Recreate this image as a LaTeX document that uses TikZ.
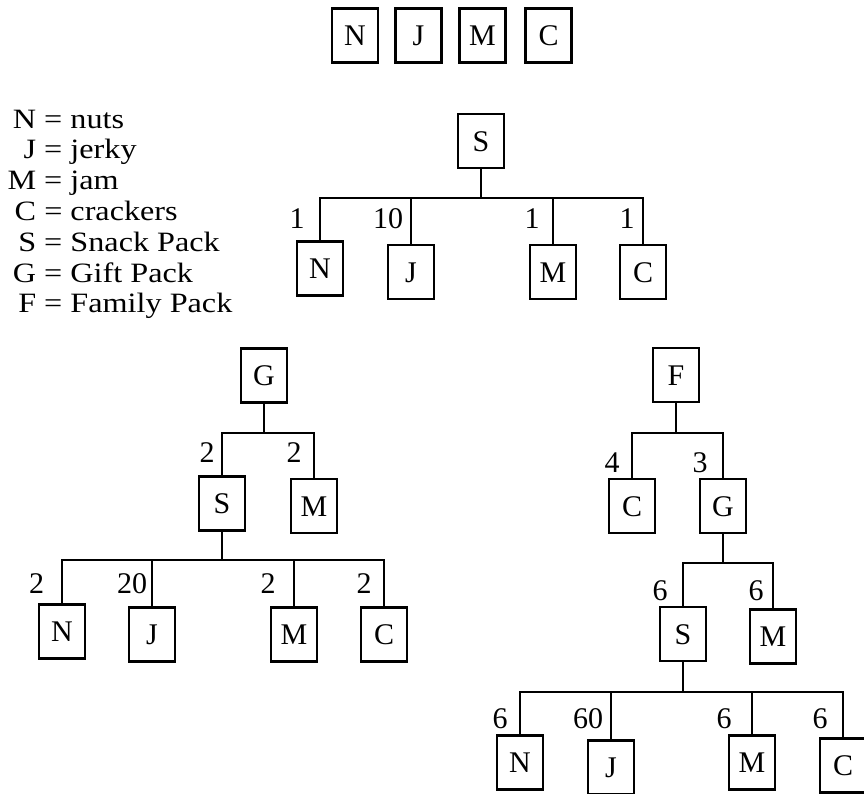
\documentclass[tikz,border=0pt]{standalone}
\usepackage{fontspec}
\setmainfont{Liberation Serif}
\newfontfamily\keyfont[FakeStretch=1.15]{Liberation Serif}
\tikzset{
  item/.style={draw, line width=2.4pt, minimum width=46pt, minimum height=54pt, inner sep=0pt,
    text height=20pt, text depth=0pt, font=\fontsize{30}{36}\selectfont},
  qty/.style={inner sep=0pt, text height=20pt, text depth=0pt, font=\fontsize{30}{36}\selectfont},
  key/.style={anchor=base west, inner sep=0pt, font=\keyfont\fontsize{28}{34}\selectfont},
  link/.style={line width=2.4pt},
}

\begin{document}
\begin{tikzpicture}[x=1pt, y=-1pt]
  \useasboundingbox (0,0) rectangle (864,793);
  % the four items
  \node[item] (topN) at (355,35.5) {N};
  \node[item] (topJ) at (418.5,35.5) {J};
  \node[item] (topM) at (482.5,35.5) {M};
  \node[item] (topC) at (548.5,35.5) {C};
  % key
  \foreach \k/\t [count=\i] in {N/nuts, J/jerky, M/jam, C/crackers, S/Snack Pack, G/Gift Pack, F/Family Pack}
    \node[key] (key\i) at (36,{128+30.8*(\i-1)}) {\makebox[0pt][r]{\k}\ = \t};

  % snack pack
  \node[item] (s1) at (481,141) {S};
  \coordinate (bar1) at (481,198);
  \node[item] (n1) at (320,268.5) {N};
  \node[item] (j1) at (411,272) {J};
  \node[item] (m1) at (553,272) {M};
  \node[item] (c1) at (643,272) {C};
  \draw[link] (s1.south) -- (bar1);
  \draw[link] (n1.north) |- (bar1) -| (c1.north);
  \foreach \c in {j1,m1} \draw[link] (\c.north) -- (\c.north |- bar1);
  \node[qty] (q1n) at (297,218) {1};
  \node[qty] (q1j) at (388,218) {10};
  \node[qty] (q1m) at (532,218) {1};
  \node[qty] (q1c) at (627,218) {1};

  % gift pack
  \node[item] (g2) at (264,375.5) {G};
  \coordinate (bar2) at (264,433);
  \node[item] (s2) at (222,503.5) {S};
  \node[item] (m2) at (314,506) {M};
  \draw[link] (g2.south) -- (bar2);
  \draw[link] (s2.north) |- (bar2) -| (m2.north);
  \node[qty] (q2s) at (207,452) {2};
  \node[qty] (q2m) at (294,452) {2};
  \coordinate (bar3) at (222,560);
  \node[item] (n2) at (62,631.5) {N};
  \node[item] (j2) at (152,634.5) {J};
  \node[item] (m2b) at (294,634.5) {M};
  \node[item] (c2) at (384,634.5) {C};
  \draw[link] (s2.south) -- (bar3);
  \draw[link] (n2.north) |- (bar3) -| (c2.north);
  \foreach \c in {j2,m2b} \draw[link] (\c.north) -- (\c.north |- bar3);
  \node[qty] (q2n) at (36.5,583) {2};
  \node[qty] (q2j) at (132,583) {20};
  \node[qty] (q2mb) at (268,583) {2};
  \node[qty] (q2c) at (364,583) {2};

  % family pack
  \node[item] (f3) at (676,375) {F};
  \coordinate (bar4) at (676,433);
  \node[item] (c3) at (632,506) {C};
  \node[item] (g3) at (723,506) {G};
  \draw[link] (f3.south) -- (bar4);
  \draw[link] (c3.north) |- (bar4) -| (g3.north);
  \node[qty] (q3c) at (612,462) {4};
  \node[qty] (q3g) at (700,462) {3};
  \coordinate (bar5) at (723,563);
  \node[item] (s3) at (683,634) {S};
  \node[item] (m3) at (773,636.5) {M};
  \draw[link] (g3.south) -- (bar5);
  \draw[link] (s3.north) |- (bar5) -| (m3.north);
  \node[qty] (q3s) at (660,590) {6};
  \node[qty] (q3m) at (756,590) {6};
  \coordinate (bar6) at (681,692);
  \node[item] (n3) at (520,762.5) {N};
  \node[item] (j3) at (611,767.5) {J};
  \node[item] (m3b) at (752,762.5) {M};
  \node[item] (c3b) at (843,765.5) {C};
  \draw[link] (s3.south) -- (s3.south |- bar6);
  \draw[link] (n3.north) |- (bar6) -| (c3b.north);
  \foreach \c in {j3,m3b} \draw[link] (\c.north) -- (\c.north |- bar6);
  \node[qty] (q3n) at (500,718) {6};
  \node[qty] (q3j) at (588,718) {60};
  \node[qty] (q3mb) at (724,718) {6};
  \node[qty] (q3cb) at (820,718) {6};
\end{tikzpicture}
\end{document}
